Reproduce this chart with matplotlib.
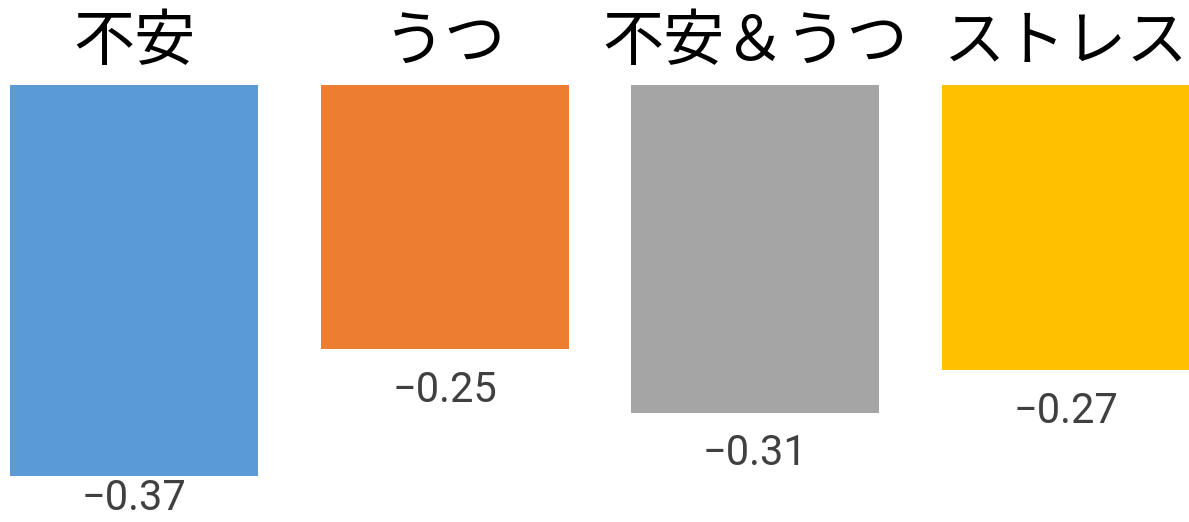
import matplotlib.pyplot as plt

# データ
categories = ['不安', 'うつ', '不安＆うつ', 'ストレス']
values = [-0.37, -0.25, -0.31, -0.27]
colors = ['#5B9BD5', '#ED7D31', '#A5A5A5', '#FFC000']

plt.rcParams['font.family'] = ['Noto Sans CJK JP', 'DejaVu Sans']

fig = plt.figure(figsize=(11.89, 5.22), dpi=100)
ax = fig.add_axes([0, 0, 1, 1])

px = 1057.0  # 1単位あたりのピクセル
ax.set_ylim(-437 / px, 85 / px)
ax.set_xlim(-0.4 - 10 / 310.5, 3.4 - 1 / 310.5)

ax.bar(range(len(values)), values, width=0.8, color=colors)

ymin = ax.get_ylim()[0]
for i, (c, v) in enumerate(zip(categories, values)):
    # カテゴリ名（上）
    ax.text(i, 42 / px, c, ha='center', va='center', fontsize=44, color='black')
    # 値ラベル（下）
    y = max(v - 41 / px, ymin + 23 / px)
    ax.text(i, y, '−%.2f' % abs(v), ha='center', va='center', fontsize=30,
            color='#404040', family=['Roboto', 'DejaVu Sans'])

ax.axis('off')
fig.savefig('out.png', dpi=100)
